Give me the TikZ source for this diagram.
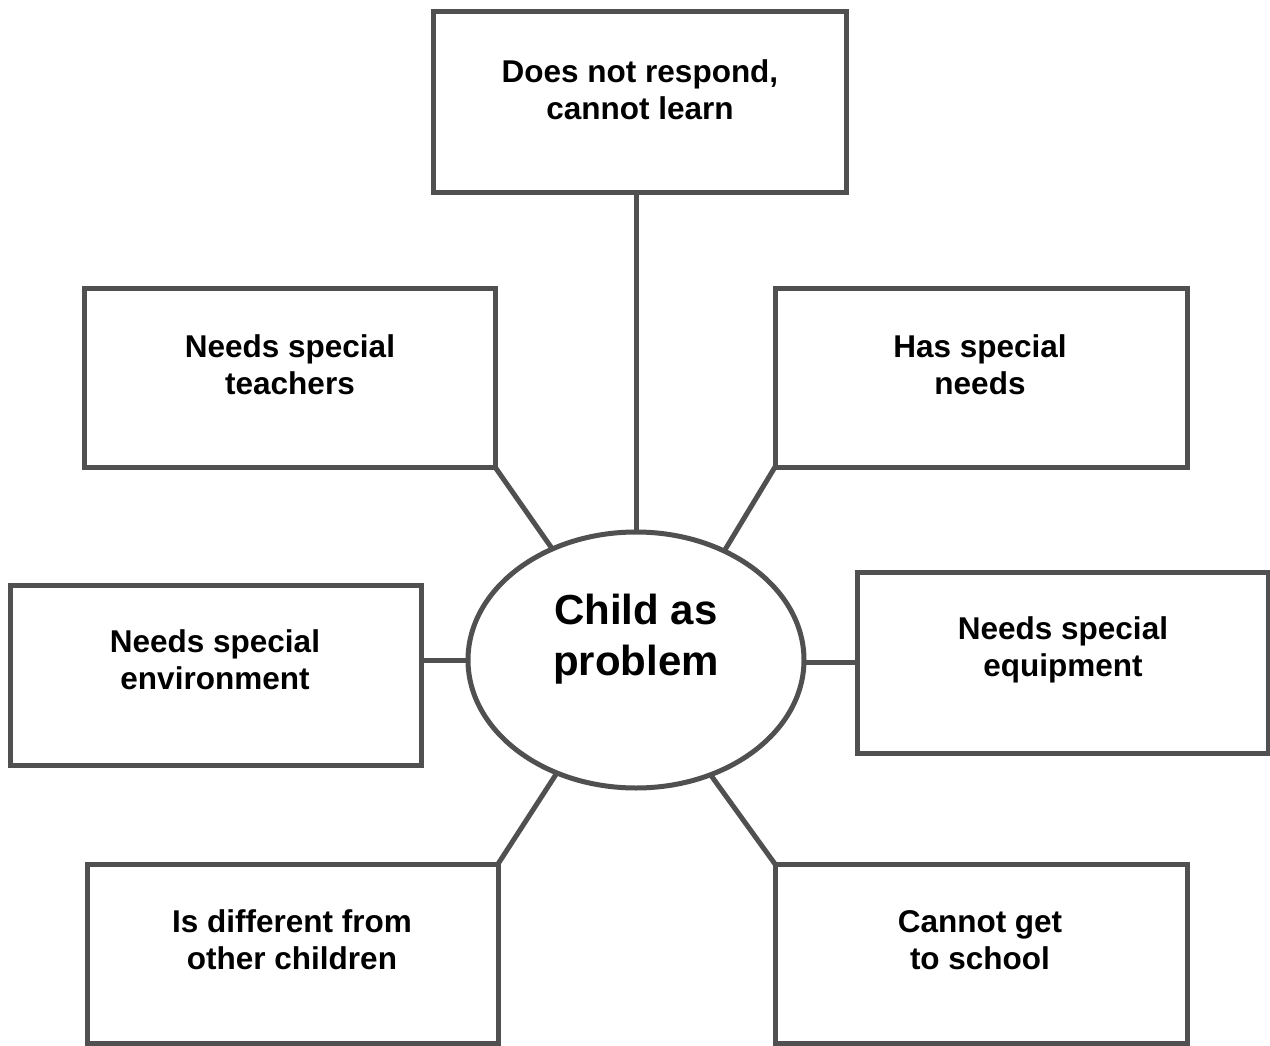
\documentclass[tikz,border=0pt]{standalone}
\usepackage{fontspec}
\setmainfont{Liberation Sans}
\usetikzlibrary{shapes.geometric}
\definecolor{edgegray}{HTML}{505050}
\tikzset{
  box/.style={draw=edgegray, line width=5pt, rectangle, inner sep=0pt, outer sep=0pt, fill=white},
  lbl/.style={align=center, font=\fontsize{31.5}{37}\selectfont\bfseries, inner sep=0pt},
  conn/.style={draw=edgegray, line width=5pt},
}
\begin{document}
\begin{tikzpicture}[x=1pt,y=-1pt]
\useasboundingbox[fill=white] (0,0) rectangle (1270,1046);
% boxes
\node[box, minimum width=413pt, minimum height=181pt] (top) at (639.5,102.5) {};
\node[box, minimum width=411pt, minimum height=179pt] (ul) at (289.5,377.5) {};
\node[box, minimum width=412pt, minimum height=179pt] (ur) at (981,377.5) {};
\node[box, minimum width=411pt, minimum height=180pt] (ml) at (215.5,675) {};
\node[box, minimum width=411pt, minimum height=181pt] (mr) at (1062.5,662.5) {};
\node[box, minimum width=411pt, minimum height=179pt] (ll) at (292.5,953.5) {};
\node[box, minimum width=412pt, minimum height=179pt] (lr) at (981,953.5) {};
% ellipse
\node[draw=edgegray, line width=5pt, ellipse, minimum width=336pt, minimum height=256pt, inner sep=0pt, outer sep=0pt, fill=white] (ell) at (636,660) {};
% texts
\node[lbl] (toptxt) at (640,90) {Does not respond,\\cannot learn};
\node[lbl] (ultxt) at (290,365) {Needs special\\teachers};
\node[lbl] (urtxt) at (980,365) {Has special\\needs};
\node[lbl] (mltxt) at (215,660) {Needs special\\environment};
\node[lbl] (mrtxt) at (1063,650) {Needs special\\equipment};
\node[lbl] (lltxt) at (292,940) {Is different from\\other children};
\node[lbl] (lrtxt) at (980,940) {Cannot get\\to school};
\node[align=center, font=\fontsize{42}{51}\selectfont\bfseries, inner sep=0pt] (elltxt) at (636,639) {Child as\\problem};
% connectors
\draw[conn] (ell.north |- top.south) -- (ell.north);
\draw[conn] (ul.south east) -- (ell.127.4);
\draw[conn] (ur.south west) -- (ell.51.3);
\draw[conn] (ell.west -| ml.east) -- (ell.west);
\draw[conn] (mr.west) -- (mr.west -| ell.east);
\draw[conn] (ll.north east) -- (ell.235.2);
\draw[conn] (lr.north west) -- (ell.303.5);
\end{tikzpicture}
\end{document}
